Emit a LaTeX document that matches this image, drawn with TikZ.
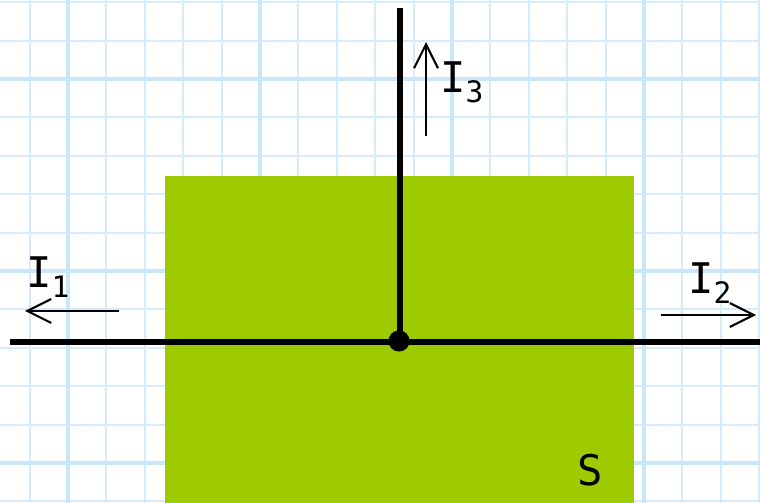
\documentclass[tikz,border=0pt]{standalone}
\usepackage{fontspec}
\setmainfont{DejaVu Sans Mono}
\usepackage{xcolor}
\usepackage{tikz}
\usetikzlibrary{arrows.meta,positioning}
\definecolor{leafgreen}{RGB}{157,203,0}
\definecolor{gridblue}{RGB}{214,236,252}
\definecolor{gridmajor}{RGB}{200,230,252}
\tikzset{
  gminor/.style={draw=gridblue, line width=1.4pt},
  gmajor/.style={draw=gridmajor, line width=3pt},
  wire/.style={draw=black, line width=3.8pt},
  jdot/.style={circle, fill=black, inner sep=0pt, minimum size=15pt},
  carrow/.style={-{Straight Barb[length=17pt,width=17pt,line width=1.5pt]}, line width=1.5pt},
  clabel/.style={font=\fontsize{30}{30}\selectfont, inner sep=0pt, anchor=base west}
}

\begin{document}
\begin{tikzpicture}[x=0.025cm, y=-0.025cm]
\useasboundingbox (0,0) rectangle (760,503);
% squared paper
\foreach \i in {0,...,19} \draw[gminor] ({29.6+38.4*\i},0) -- ({29.6+38.4*\i},503);
\foreach \j in {0,...,13} \draw[gminor] (0,{2.2+38.4*\j}) -- (760,{2.2+38.4*\j});
\foreach \i in {0,...,3} \draw[gmajor] ({68+192*\i},0) -- ({68+192*\i},503);
\foreach \j in {0,...,2} \draw[gmajor] (0,{79+192*\j}) -- (760,{79+192*\j});
% surface
\fill[leafgreen] (165,176) rectangle (634,503);
\node[font=\fontsize{30}{30}\selectfont, inner sep=0pt] (surf) at (590,470) {S};
% wires
\coordinate (wl) at (10,342);
\coordinate (wr) at (760,342);
\coordinate (wt) at (400,8);
\node[jdot] (junc) at (399,341) {};
\draw[wire] (wl) -- (wr);
\draw[wire] (wt) -- (400,342);
% currents
\coordinate (a1s) at (119,311);
\coordinate (a1e) at (25,311);
\coordinate (a2s) at (661,315);
\coordinate (a2e) at (756,315);
\coordinate (a3s) at (426,136);
\coordinate (a3e) at (426,42);
\draw[carrow] (a1s) -- (a1e);
\draw[carrow] (a2s) -- (a2e);
\draw[carrow] (a3s) -- (a3e);
\node[clabel] (i1) at (26,288) {I$_{\mathrm{1}}$};
\node[clabel] (i2) at (688,294) {I$_{\mathrm{2}}$};
\node[clabel] (i3) at (440,93) {I$_{\mathrm{3}}$};
\end{tikzpicture}
\end{document}
